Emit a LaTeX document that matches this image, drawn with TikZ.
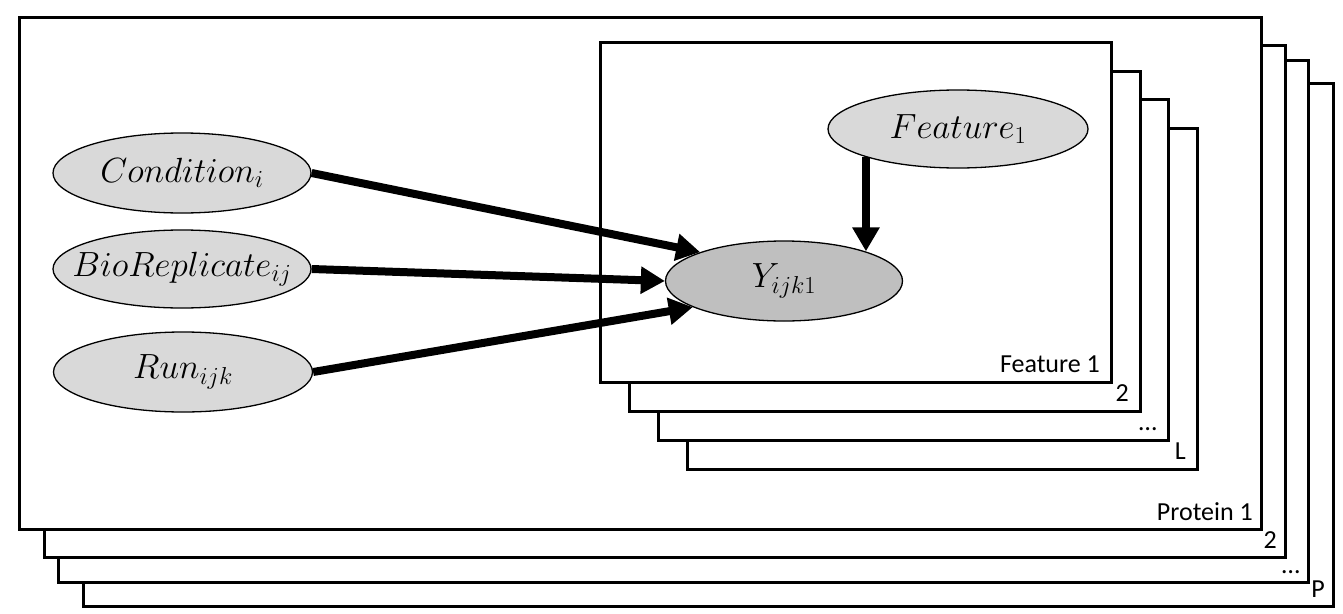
\RequirePackage{fix-cm}
\documentclass[tikz,border=0pt]{standalone}
\usepackage[no-math]{fontspec}
\setmainfont{Carlito}
\usetikzlibrary{%
	shapes.geometric,%
	arrows.meta
}
\newcommand{\varlabel}[1]{\makebox[0pt]{$#1$}}
\tikzset{
	plate/.style={draw,fill=white,line width=3pt},
	platelabel/.style={anchor=base east,inner sep=0pt,font=\fontsize{26}{30}\selectfont},
	var/.style={ellipse,draw,line width=1.3pt,fill=gray!30,inner sep=0pt,font=\fontsize{35}{40}\selectfont},
	dep/.style={line width=8pt,-{Triangle[length=24pt,width=26pt]}}
}
\begin{document}
\begin{tikzpicture}[x=1pt,y=-1pt]
		\useasboundingbox (0,0) rectangle (1343,613);
		
		% protein plates, back to front
		\foreach \l/\t/\r/\b/\lab [count=\i] in {83/83/1333/606/P,58/60/1308/582/\ldots,44/45/1285/557/2,19/17/1261/529/Protein 1}{
			\draw[plate] (\l,\t) rectangle (\r,\b);
			\node[platelabel] (prot\i) at (\r-8,\b-9) {\lab};
		}
		% feature plates, back to front
		\foreach \l/\t/\r/\b/\lab [count=\i] in {687/128/1197/469/L,658/99/1168/440/\ldots,629/71/1140/411/2,600/42/1111/382/Feature 1}{
			\draw[plate] (\l,\t) rectangle (\r,\b);
			\node[platelabel] (feat\i) at (\r-11,\b-10) {\lab};
		}
		
		\node[var,minimum width=258pt,minimum height=80pt] (cond) at (182,173) {\varlabel{Condition_i}};
		\node[var,minimum width=258pt,minimum height=78pt] (bio) at (182,269) {\varlabel{BioReplicate_{ij}}};
		\node[var,minimum width=259pt,minimum height=80pt] (run) at (183,372) {\varlabel{Run_{ijk}}};
		\node[var,minimum width=260pt,minimum height=78pt] (feat) at (958,129) {\varlabel{Feature_1}};
		\node[var,fill=gray!50,minimum width=237pt,minimum height=80pt] (y) at (784,281) {\varlabel{Y_{ijk1}}};
		
		\draw[dep] (cond.east) -- (y.161);
		\draw[dep] (bio.east) -- (y.west);
		\draw[dep] (run.east) -- (y.196);
		\draw[dep] (feat.197) -- (feat.197 |- y.20);
	\end{tikzpicture}
\end{document}
